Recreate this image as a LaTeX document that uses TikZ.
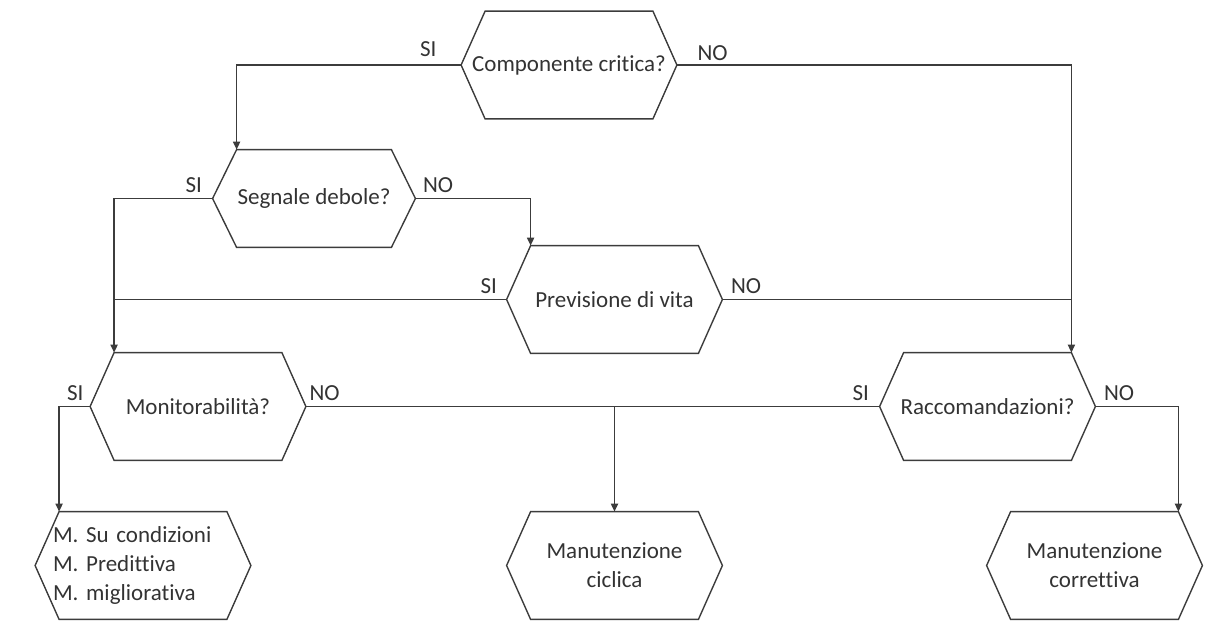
\documentclass[tikz,border=0pt]{standalone}
\usepackage{fontspec}
\setmainfont{Carlito}[Ligatures={NoCommon}]
\usetikzlibrary{arrows.meta}
\definecolor{grigiolinea}{HTML}{3C3C3C}
\definecolor{grigiotesto}{HTML}{333333}
\frenchspacing

\begin{document}
\begin{tikzpicture}[
    x = 0.5pt, y = -0.5pt,
    blocco/.style = {rectangle, minimum width=107.5pt, minimum height=53.5pt,
                     inner sep=2pt, align=center, text=grigiotesto},
    filo/.style = {draw=grigiolinea, line width=0.7pt},
    freccia/.style = {filo, -{Triangle[length=4pt, width=3.6pt]}},
    etich/.style = {inner sep=1pt, text=grigiotesto},
    font=\fontsize{11.5}{14.5}\selectfont
    ]
  \useasboundingbox (0,0) rectangle (1224,634);

  % domande
  \node[blocco] (crit) at (569,65)    {Componente critica?} ;
  \node[blocco, minimum width=101pt, minimum height=48.5pt] (segn) at (314,198.5) {Segnale debole?} ;
  \node[blocco] (vita) at (614.5,299.5) {Previsione di vita} ;
  \node[blocco] (moni) at (198,406.5)   {Monitorabilità?} ;
  \node[blocco] (racc) at (987.5,406.5) {Raccomandazioni?} ;

  % esiti
  \node[blocco, align=left, text width=90pt, inner xsep=8.5pt] (cond) at (143,565.5)
       {M. Su condizioni\\M. Predittiva\\M. migliorativa} ;
  \node[blocco] (cicl) at (614.5,565.5) {Manutenzione\\ciclica} ;
  \node[blocco] (corr) at (1094.5,565.5) {Manutenzione\\correttiva} ;

  % contorni esagonali
  \foreach \n in {crit,segn,vita,moni,racc,cond,cicl,corr}
    \draw[filo] ([xshift=12pt]\n.north west) -- ([xshift=-12pt]\n.north east) -- (\n.east)
      -- ([xshift=-12pt]\n.south east) -- ([xshift=12pt]\n.south west) -- (\n.west) -- cycle;

  % spigoli dove arrivano le frecce
  \coordinate (segnin) at ([xshift=12pt]segn.north west);
  \coordinate (vitain) at ([xshift=12pt]vita.north west);
  \coordinate (moniin) at ([xshift=12pt]moni.north west);
  \coordinate (condin) at ([xshift=12pt]cond.north west);
  \coordinate (raccin) at ([xshift=-12pt]racc.north east);
  \coordinate (corrin) at ([xshift=-12pt]corr.north east);

  \draw[freccia] (crit.west) node[etich, anchor=south east, xshift=-11pt, yshift=3pt] {SI} -| (segnin);
  \draw[freccia] (crit.east) node[etich, anchor=south west, xshift=9pt, yshift=1pt] {NO} -| (raccin);

  \draw[freccia] (segn.west) node[etich, anchor=south east, xshift=-4pt, yshift=1.5pt] {SI} -| (moniin);
  \draw[freccia] (segn.east) node[etich, anchor=south west, xshift=2.5pt, yshift=1.5pt] {NO} -| (vitain);

  \draw[filo] (vita.west) node[etich, anchor=south east, xshift=-3.5pt, yshift=1.5pt] {SI} -- (vita.west -| moniin);
  \draw[filo] (vita.east) node[etich, anchor=south west, xshift=3pt, yshift=1.5pt] {NO} -- (vita.east -| raccin);

  \draw[freccia] (moni.west) node[etich, anchor=south east, xshift=-2pt, yshift=1.5pt] {SI} -| (condin);
  \draw[filo] (moni.east) node[etich, anchor=south west, xshift=0.5pt, yshift=1.5pt] {NO}
        -- (racc.west) node[etich, anchor=south east, xshift=-4pt, yshift=1.5pt] {SI};
  \draw[freccia] (moni.east -| cicl.north) -- (cicl.north);

  \draw[freccia] (racc.east) node[etich, anchor=south west, xshift=3pt, yshift=1.5pt] {NO} -| (corrin);

\end{tikzpicture}
\end{document}
